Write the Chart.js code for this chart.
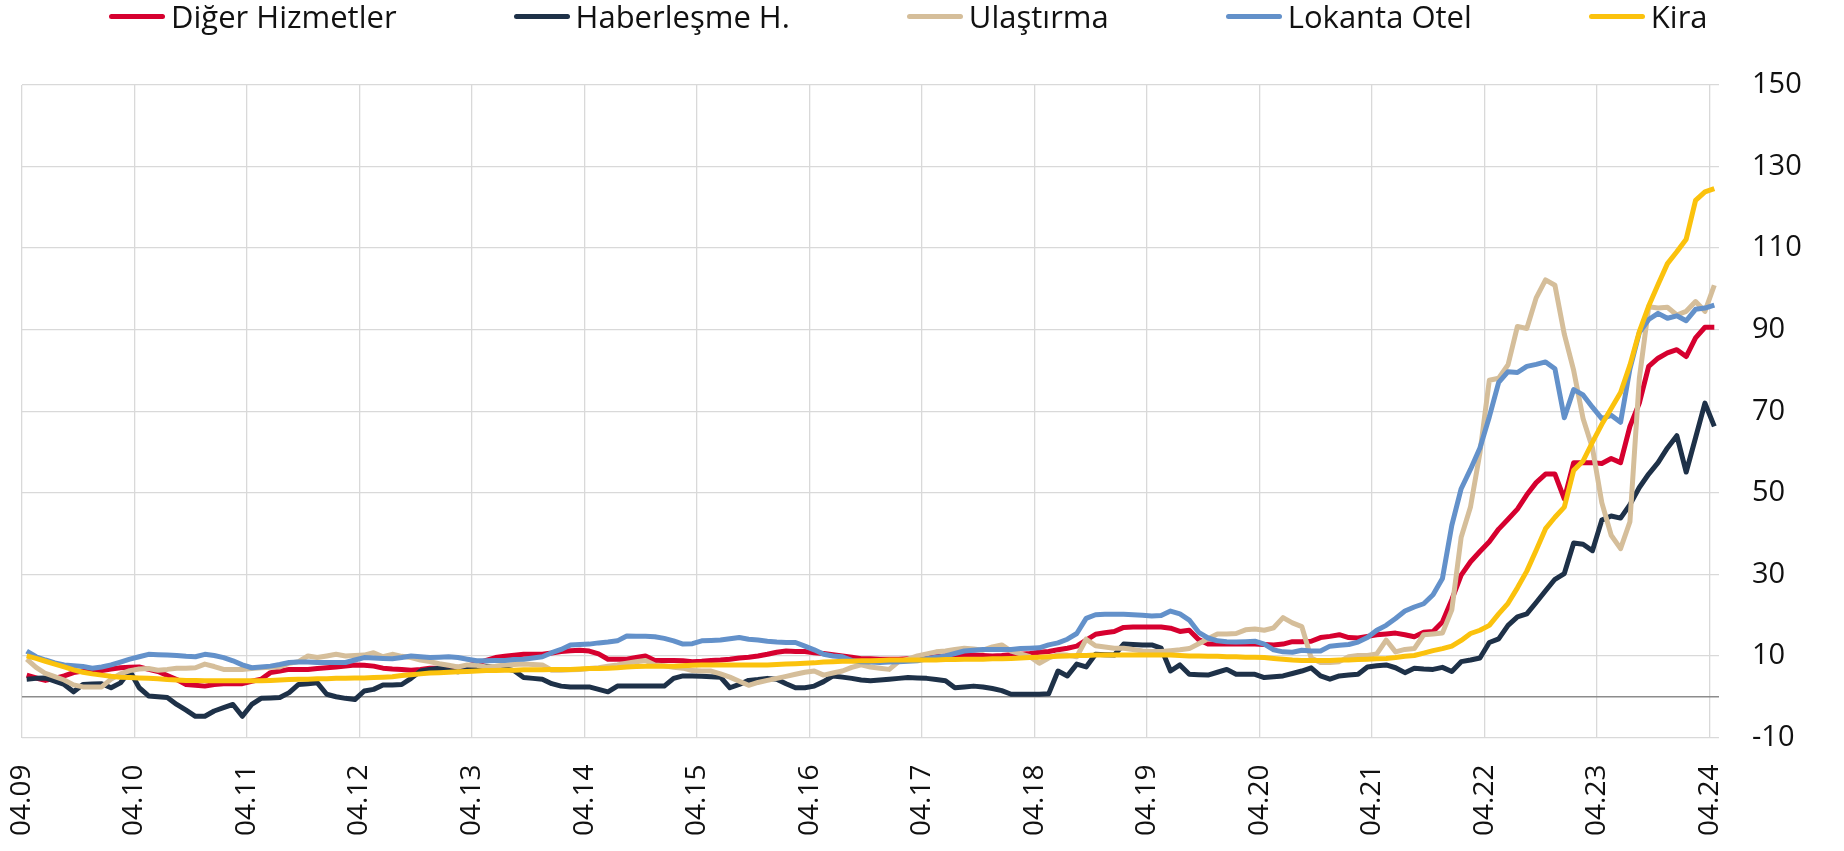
<!DOCTYPE html>
<html lang="tr">
<head>
<meta charset="utf-8">
<title>Hizmet fiyatları, yıllık değişim</title>
<script src="https://cdn.jsdelivr.net/npm/chart.js@4.4.1/dist/chart.umd.min.js"></script>
<style>
  html, body { margin: 0; padding: 0; background: #fff; }
  #wrap { position: relative; width: 1844px; height: 851px; }
  #legend {
    position: absolute; top: -2px; left: 109px;
    display: flex; align-items: center; gap: 117px;
    font-family: 'Open Sans', sans-serif; font-size: 31px; line-height: 36px;
    color: #111; white-space: nowrap;
  }
  .item { display: flex; align-items: center; }
  .swatch { width: 56px; height: 5px; border-radius: 3px; margin-right: 6px; }
</style>
</head>
<body>
<div id="wrap">
  <canvas id="chart" width="1844" height="851"></canvas>
  <div id="legend"></div>
</div>
<script>
// x axis: one label per year (April), monthly data from 04.2009 to 04.2024
const tickLabels = ['04.09', '04.10', '04.11', '04.12', '04.13', '04.14', '04.15', '04.16',
  '04.17', '04.18', '04.19', '04.20', '04.21', '04.22', '04.23', '04.24'];
const monthsPerTick = 12;

const seriesNames = ['Diğer Hizmetler', 'Haberleşme H.', 'Ulaştırma', 'Lokanta Otel', 'Kira'];
const seriesColors = ['#d6002f', '#1e3148', '#d5be9a', '#6391ca', '#fbc20d'];

const digerHizmetler = [
  5.3, 4.6, 4.0, 4.5, 5.1, 5.9, 6.3, 6.3, 6.4, 6.8, 7.1, 7.2,
  7.3, 6.7, 6.2, 5.2, 4.2, 3.0, 2.8, 2.6, 3.0, 3.2, 3.2, 3.2,
  3.8, 4.3, 5.9, 6.3, 6.7, 6.7, 6.7, 6.9, 7.1, 7.3, 7.5, 7.8,
  7.7, 7.5, 7.0, 6.8, 6.7, 6.5, 6.7, 7.0, 7.0, 7.1, 7.2, 7.5,
  8.2, 8.9, 9.6, 9.9, 10.2, 10.4, 10.4, 10.4, 10.7, 11.1, 11.3, 11.4,
  11.2, 10.5, 9.2, 9.2, 9.2, 9.6, 10.0, 8.9, 8.9, 8.9, 8.8, 8.6,
  8.7, 8.9, 9.0, 9.2, 9.5, 9.7, 10.0, 10.4, 10.9, 11.2, 11.1, 11.1,
  10.8, 10.6, 10.3, 10.0, 9.7, 9.3, 9.3, 9.2, 9.2, 9.2, 9.3, 9.4,
  9.6, 9.8, 10.0, 10.1, 10.1, 10.2, 10.1, 10.0, 10.1, 10.3, 10.4, 10.6,
  10.9, 11.1, 11.5, 11.9, 12.4, 13.9, 15.3, 15.7, 16.0, 17.0, 17.1, 17.1,
  17.1, 17.1, 16.8, 16.0, 16.3, 14.0, 12.9, 12.9, 12.9, 12.9, 12.9, 12.9,
  12.8, 12.7, 12.9, 13.5, 13.5, 13.6, 14.5, 14.8, 15.2, 14.5, 14.4, 14.8,
  15.2, 15.4, 15.6, 15.2, 14.7, 15.8, 16.0, 18.3, 23.8, 29.8, 33.1, 35.6,
  38.0, 41.1, 43.5, 46.0, 49.5, 52.5, 54.6, 54.6, 48.5, 57.4, 57.4, 57.4,
  57.2, 58.4, 57.4, 66.3, 72.0, 81.0, 83.0, 84.3, 85.1, 83.4, 88.0, 90.6,
  90.6
];

const haberlesme = [
  4.3, 4.5, 4.6, 3.8, 3.0, 1.2, 3.0, 3.1, 3.2, 2.2, 3.4, 6.3,
  2.2, 0.2, 0.0, -0.2, -1.9, -3.3, -4.8, -4.8, -3.5, -2.7, -1.9, -4.8,
  -1.9, -0.4, -0.3, -0.2, 1.0, 3.0, 3.2, 3.4, 0.6, 0.0, -0.4, -0.7,
  1.4, 1.8, 2.9, 2.9, 3.0, 4.5, 6.3, 6.7, 7.0, 6.5, 6.1, 6.7,
  7.2, 7.5, 7.3, 6.9, 6.4, 4.7, 4.5, 4.3, 3.2, 2.6, 2.4, 2.4,
  2.4, 1.8, 1.2, 2.6, 2.6, 2.6, 2.6, 2.6, 2.6, 4.5, 5.1, 5.1,
  5.0, 4.9, 4.8, 2.2, 3.0, 4.0, 4.2, 4.5, 4.3, 3.2, 2.2, 2.2,
  2.6, 3.7, 5.1, 4.8, 4.5, 4.1, 3.9, 4.1, 4.3, 4.5, 4.7, 4.6,
  4.5, 4.2, 3.9, 2.2, 2.4, 2.6, 2.4, 2.0, 1.5, 0.6, 0.6, 0.6,
  0.6, 0.7, 6.3, 5.1, 8.0, 7.3, 10.4, 10.3, 10.2, 12.9, 12.8, 12.7,
  12.7, 11.9, 6.3, 7.8, 5.5, 5.4, 5.3, 6.0, 6.7, 5.5, 5.5, 5.5,
  4.7, 4.9, 5.1, 5.7, 6.3, 7.1, 5.1, 4.3, 5.1, 5.3, 5.5, 7.3,
  7.6, 7.8, 7.1, 5.9, 7.0, 6.8, 6.7, 7.2, 6.2, 8.6, 9.0, 9.5,
  13.3, 14.2, 17.5, 19.6, 20.3, 23.1, 26.0, 28.8, 30.2, 37.7, 37.4, 35.8,
  43.3, 44.3, 43.8, 47.1, 51.3, 54.6, 57.4, 61.0, 64.0, 55.1, 63.5, 72.0,
  66.3
];

const ulastirma = [
  9.2, 7.2, 5.7, 4.9, 4.1, 2.9, 2.4, 2.4, 2.4, 4.3, 5.6, 6.4,
  6.8, 6.9, 6.5, 6.7, 7.0, 7.0, 7.1, 8.0, 7.4, 6.7, 6.7, 6.7,
  6.9, 7.1, 7.2, 7.3, 8.2, 8.6, 10.0, 9.6, 10.0, 10.4, 10.0, 10.1,
  10.2, 10.8, 9.8, 10.4, 9.9, 9.6, 9.0, 8.6, 8.1, 7.7, 7.3, 7.8,
  7.7, 7.3, 7.5, 7.8, 7.9, 8.0, 7.9, 7.8, 6.5, 6.5, 6.6, 6.7,
  6.9, 7.1, 7.5, 7.8, 8.2, 8.6, 8.9, 7.8, 7.6, 7.2, 7.0, 6.4,
  6.3, 6.3, 5.6, 4.8, 3.8, 2.8, 3.5, 4.0, 4.5, 5.0, 5.5, 6.0,
  6.3, 5.3, 5.8, 6.3, 7.2, 7.8, 7.3, 7.0, 6.7, 8.6, 9.2, 10.0,
  10.5, 11.0, 11.2, 11.6, 11.9, 11.7, 11.4, 12.2, 12.7, 11.2, 10.5, 9.8,
  8.2, 9.5, 10.3, 10.2, 9.8, 14.1, 12.5, 12.2, 11.9, 11.9, 11.6, 11.2,
  11.1, 11.1, 11.3, 11.5, 11.8, 13.0, 14.2, 15.4, 15.4, 15.5, 16.4, 16.6,
  16.3, 16.9, 19.4, 18.1, 17.2, 9.5, 8.4, 8.4, 8.6, 9.8, 10.1, 10.1,
  10.5, 13.9, 11.0, 11.6, 11.8, 15.2, 15.4, 15.6, 21.3, 39.1, 46.6, 59.8,
  77.6, 78.1, 81.4, 90.8, 90.3, 97.8, 102.2, 100.9, 88.9, 80.0, 68.2, 61.0,
  47.6, 39.6, 36.3, 42.9, 78.0, 95.6, 95.3, 95.5, 93.6, 94.5, 96.9, 94.5,
  100.9
];

const lokantaOtel = [
  11.2, 9.8, 9.0, 8.3, 7.8, 7.6, 7.4, 7.0, 7.3, 7.8, 8.5, 9.2,
  9.8, 10.4, 10.3, 10.2, 10.1, 9.9, 9.8, 10.4, 10.1, 9.6, 8.8, 7.8,
  7.1, 7.3, 7.5, 7.9, 8.4, 8.5, 8.5, 8.4, 8.4, 8.4, 8.4, 9.0,
  9.6, 9.5, 9.4, 9.3, 9.6, 10.0, 9.8, 9.6, 9.7, 9.8, 9.6, 9.2,
  8.8, 8.8, 8.9, 8.9, 9.1, 9.2, 9.5, 9.8, 10.8, 11.6, 12.7, 12.8,
  12.9, 13.2, 13.4, 13.7, 14.9, 14.8, 14.8, 14.7, 14.3, 13.7, 12.9, 13.0,
  13.7, 13.8, 13.9, 14.2, 14.5, 14.1, 13.9, 13.6, 13.4, 13.3, 13.3, 12.4,
  11.5, 10.4, 10.0, 9.8, 8.9, 8.6, 8.5, 8.4, 8.5, 8.6, 8.7, 8.8,
  9.3, 9.7, 10.0, 10.6, 11.2, 11.4, 11.6, 11.6, 11.6, 11.6, 11.8, 11.9,
  12.0, 12.7, 13.2, 14.1, 15.5, 19.2, 20.1, 20.2, 20.2, 20.2, 20.1, 20.0,
  19.8, 19.9, 21.0, 20.3, 18.8, 15.8, 14.4, 13.7, 13.5, 13.4, 13.5, 13.6,
  12.9, 11.5, 11.0, 10.9, 11.4, 11.2, 11.2, 12.4, 12.6, 12.8, 13.4, 14.5,
  16.3, 17.5, 19.2, 21.0, 22.0, 22.8, 25.0, 29.0, 42.0, 51.0, 55.8, 61.0,
  68.6, 77.1, 79.7, 79.5, 81.0, 81.5, 82.1, 80.4, 68.4, 75.3, 74.0, 71.0,
  68.2, 69.0, 67.3, 80.4, 89.3, 92.5, 94.0, 92.8, 93.4, 92.2, 95.0, 95.3,
  96.0
];

const kira = [
  10.0, 9.4, 8.7, 8.0, 7.3, 6.6, 6.0, 5.6, 5.3, 5.0, 4.8, 4.7,
  4.6, 4.5, 4.4, 4.2, 4.1, 4.0, 4.0, 3.9, 3.9, 3.9, 3.9, 3.9,
  3.9, 3.9, 4.0, 4.1, 4.2, 4.3, 4.3, 4.4, 4.4, 4.5, 4.5, 4.6,
  4.6, 4.7, 4.8, 4.9, 5.2, 5.4, 5.6, 5.8, 5.9, 6.0, 6.1, 6.2,
  6.3, 6.4, 6.4, 6.5, 6.5, 6.6, 6.6, 6.6, 6.7, 6.7, 6.7, 6.8,
  6.9, 6.9, 7.0, 7.1, 7.3, 7.4, 7.5, 7.5, 7.5, 7.5, 7.6, 7.7,
  7.8, 7.8, 7.8, 7.8, 7.8, 7.8, 7.8, 7.8, 7.9, 8.0, 8.1, 8.2,
  8.3, 8.5, 8.6, 8.7, 8.7, 8.8, 8.8, 8.9, 9.0, 9.0, 9.0, 9.0,
  9.0, 9.0, 9.1, 9.1, 9.2, 9.2, 9.2, 9.3, 9.3, 9.4, 9.5, 9.6,
  9.7, 9.8, 9.9, 10.0, 10.1, 10.1, 10.2, 10.2, 10.2, 10.2, 10.2, 10.2,
  10.2, 10.2, 10.2, 10.1, 10.0, 10.0, 9.9, 9.9, 9.8, 9.8, 9.7, 9.7,
  9.6, 9.4, 9.2, 9.0, 8.9, 8.9, 8.9, 8.9, 9.0, 9.0, 9.1, 9.2,
  9.3, 9.4, 9.6, 9.9, 10.1, 10.7, 11.3, 11.8, 12.4, 13.8, 15.5, 16.3,
  17.5, 20.3, 22.9, 26.7, 30.8, 35.9, 41.2, 44.0, 46.5, 55.5, 57.8, 62.4,
  66.8, 70.7, 74.6, 81.3, 89.5, 95.8, 101.1, 106.2, 109.1, 112.2, 121.7, 123.8,
  124.6
];

const seriesValues = [digerHizmetler, haberlesme, ulastirma, lokantaOtel, kira];
const zeroLine = 0;

// HTML legend, same look as the original (thick line + label)
function buildLegend() {
  let legend = document.getElementById('legend');
  legend.innerHTML = seriesNames.map((name, i) =>
    `<span class="item"><span class="swatch" style="background:${seriesColors[i]}"></span>${name}</span>`
  ).join('');
}

// each monthly value sits in the middle of its month on the axis
function toPoints(values) {
  return values.map((v, i) => ({ x: i + 0.5, y: v }));
}

function drawChart() {
  let ctx = document.getElementById('chart').getContext('2d');
  let tickFont = { family: "'Open Sans', sans-serif", size: 29 };
  new Chart(ctx, {
    type: 'line',
    data: {
      datasets: seriesNames.map((name, i) => ({
        label: name,
        data: toPoints(seriesValues[i]),
        borderColor: seriesColors[i],
        backgroundColor: seriesColors[i],
        borderWidth: 5,
        borderJoinStyle: 'round',
        pointRadius: 0,
        tension: 0,
        order: seriesNames.length - i
      }))
    },
    options: {
      responsive: false,
      animation: false,
      devicePixelRatio: 1,
      layout: { padding: { left: 22, top: 85, right: 0, bottom: 0 } },
      plugins: { legend: { display: false }, tooltip: { enabled: false } },
      scales: {
        x: {
          type: 'linear',
          min: 0,
          max: digerHizmetler.length,
          afterBuildTicks: scale => {
            scale.ticks = tickLabels.map((_, i) => ({ value: i * monthsPerTick }));
          },
          afterFit: scale => {
            scale.height = 113.5;
            scale.paddingLeft = 0;
            scale.paddingRight = 0;
          },
          ticks: {
            autoSkip: false,
            maxRotation: 90,
            minRotation: 90,
            padding: 27,
            color: '#111',
            font: { family: "'Open Sans', sans-serif", size: 28 },
            callback: v => tickLabels[v / monthsPerTick]
          },
          grid: { color: '#d9d9d9', lineWidth: 1.3, drawTicks: false },
          border: { display: false }
        },
        y: {
          position: 'right',
          min: -10,
          max: 150,
          afterBuildTicks: scale => {
            scale.ticks.push({ value: zeroLine });
            scale.ticks.sort((a, b) => a.value - b.value);
          },
          afterFit: scale => { scale.width = 125; },
          ticks: {
            stepSize: 20,
            padding: 33,
            color: '#111',
            font: tickFont,
            callback: v => (v === zeroLine ? '' : v)
          },
          grid: {
            drawTicks: false,
            color: c => (c.tick && c.tick.value === zeroLine ? '#8c8c8c' : '#d9d9d9'),
            lineWidth: c => (c.tick && c.tick.value === zeroLine ? 1.6 : 1.3)
          },
          border: { display: false }
        }
      }
    }
  });
}

buildLegend();
document.fonts.load("29px 'Open Sans'").then(drawChart, drawChart);
</script>
</body>
</html>
